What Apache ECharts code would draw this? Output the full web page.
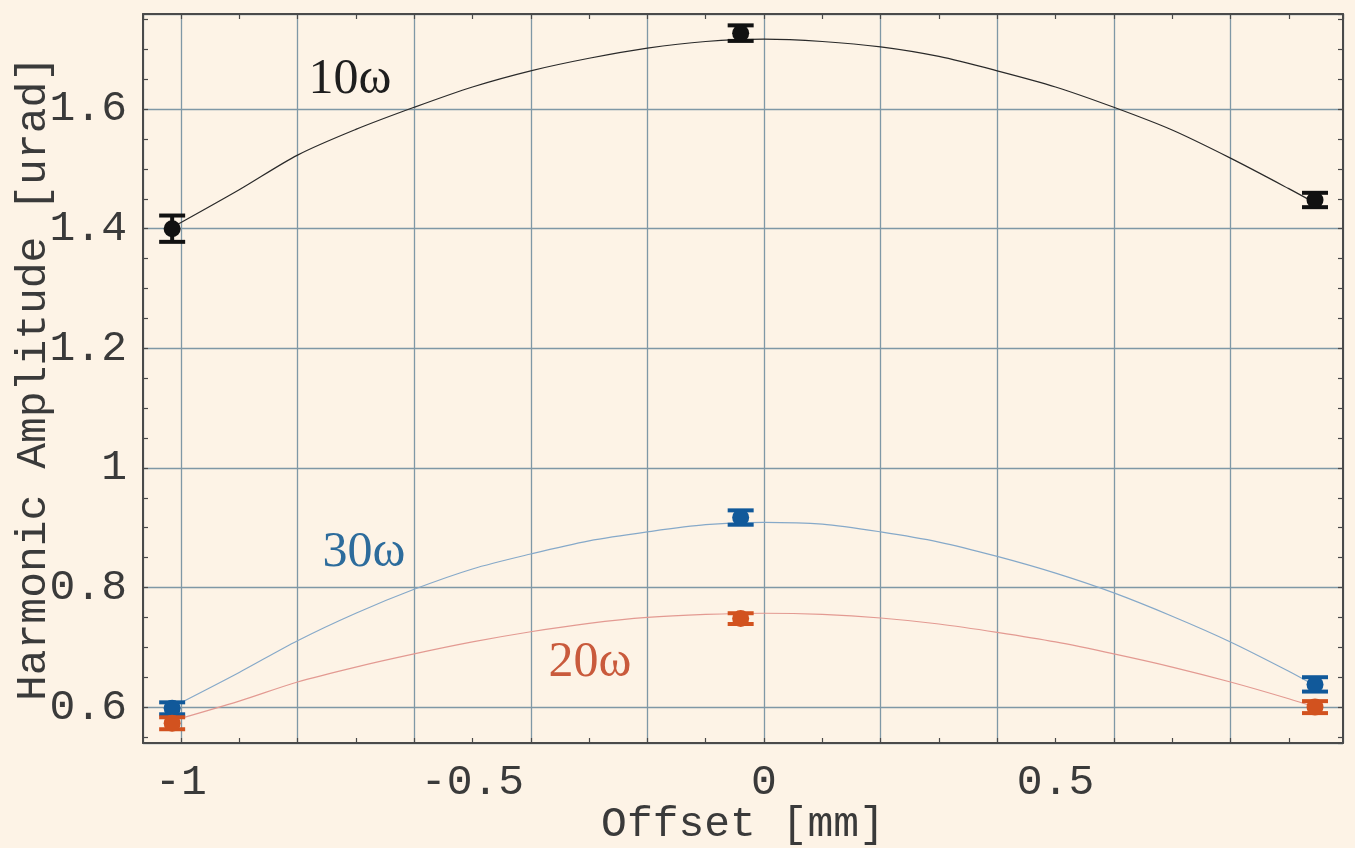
<!DOCTYPE html>
<html>
<head>
<meta charset="utf-8">
<script src="https://cdn.jsdelivr.net/npm/echarts@6/dist/echarts.min.js"></script>
<style>
  html, body { margin: 0; padding: 0; background: #fdf3e6; }
  #chart { width: 1355px; height: 848px; }
</style>
</head>
<body>
<div id="chart"></div>
<script>
// measured points (offset in mm, amplitude in urad, error)
const xMeasured = [-1.015, -0.04, 0.945];
const amp10 = [1.400, 1.727, 1.448];
const err10 = [0.022, 0.013, 0.012];
const amp20 = [0.573, 0.748, 0.600];
const err20 = [0.010, 0.009, 0.010];
const amp30 = [0.598, 0.917, 0.638];
const err30 = [0.010, 0.012, 0.012];

// fitted curves
const xFit = [-1.015, -0.9, -0.8, -0.7, -0.6, -0.5, -0.4, -0.3, -0.2, -0.1, 0, 0.1, 0.2, 0.3, 0.4, 0.5, 0.6, 0.7, 0.8, 0.9, 0.945];
const fit10 = [1.402, 1.465, 1.523, 1.566, 1.603, 1.637, 1.664, 1.685, 1.702, 1.713, 1.717, 1.713, 1.704, 1.688, 1.664, 1.637, 1.603, 1.565, 1.518, 1.467, 1.443];
const fit30 = [0.600, 0.658, 0.711, 0.757, 0.797, 0.831, 0.856, 0.878, 0.893, 0.905, 0.909, 0.906, 0.893, 0.876, 0.852, 0.824, 0.791, 0.752, 0.709, 0.660, 0.636];
const fit20 = [0.577, 0.610, 0.642, 0.667, 0.689, 0.709, 0.726, 0.740, 0.750, 0.755, 0.757, 0.755, 0.749, 0.739, 0.725, 0.709, 0.689, 0.667, 0.642, 0.614, 0.600];

const xLabelTicks = [-1, -0.5, 0, 0.5];
const yLabelTicks = [0.6, 0.8, 1, 1.2, 1.4, 1.6];

const X_MIN = -1.065, X_MAX = 0.993;
const Y_MIN = 0.540, Y_MAX = 1.759;

const FRAME = '#4a4a4a';
const GRIDLINE = '#7f98a6';
const TEXT = '#3a3a3a';
const MONO = '"Liberation Mono", "DejaVu Sans Mono", monospace';
const SERIF = '"Liberation Serif", "DejaVu Serif", serif';

const pick = (list) => (v) => (list.some((t) => Math.abs(t - v) < 1e-6) ? String(+v.toFixed(2)) : '');
const zip = (xs, ys) => xs.map((x, i) => [x, ys[i]]);
const zip3 = (xs, ys, es) => xs.map((x, i) => [x, ys[i], es[i]]);

function errorBar(color) {
  return (params, api) => {
    const x = api.value(0), y = api.value(1), e = api.value(2);
    const c = api.coord([x, y]);
    const hi = api.coord([x, y + e])[1];
    const lo = api.coord([x, y - e])[1];
    const cap = 13;
    const st = { stroke: color, lineWidth: 4 };
    return {
      type: 'group',
      children: [
        { type: 'line', shape: { x1: c[0], y1: hi, x2: c[0], y2: lo }, style: st },
        { type: 'line', shape: { x1: c[0] - cap, y1: hi, x2: c[0] + cap, y2: hi }, style: st },
        { type: 'line', shape: { x1: c[0] - cap, y1: lo, x2: c[0] + cap, y2: lo }, style: st },
        { type: 'circle', shape: { cx: c[0], cy: c[1], r: 8.5 }, style: { fill: color } },
      ],
    };
  };
}

function fitLine(name, data, color) {
  return {
    name, type: 'line', data, smooth: 0.3, showSymbol: false, silent: true,
    lineStyle: { color, width: 1.2 }, z: 2,
  };
}

function points(name, data, color) {
  return { name, type: 'custom', data, renderItem: errorBar(color), z: 3 };
}

const chart = echarts.init(document.getElementById('chart'));

const tickStyle = { color: FRAME, width: 1.2 };

chart.setOption({
  backgroundColor: '#fdf3e6',
  animation: false,
  grid: { left: 143, top: 14, right: 12, bottom: 105, containLabel: false, outerBoundsMode: 'none' },
  xAxis: [
    {
      type: 'value', min: X_MIN, max: X_MAX, splitNumber: 20, position: 'bottom',
      name: 'Offset [mm]', nameLocation: 'middle', nameGap: 60, nameMoveOverlap: false,
      nameTextStyle: { fontFamily: MONO, fontSize: 43, color: TEXT },
      axisLine: { show: true, onZero: false, lineStyle: { color: FRAME, width: 2 } },
      axisTick: { show: true, inside: true, length: 5, lineStyle: tickStyle },
      axisLabel: {
        formatter: pick(xLabelTicks), fontFamily: MONO, fontSize: 43, color: TEXT, margin: 18,
        showMinLabel: false, showMaxLabel: false,
      },
      splitLine: { show: false },
    },
    {
      type: 'value', min: X_MIN, max: X_MAX, splitNumber: 10, position: 'top',
      axisLine: { show: true, onZero: false, lineStyle: { color: FRAME, width: 2 } },
      axisTick: { show: true, inside: true, length: 5, lineStyle: tickStyle },
      minorTick: { show: true, splitNumber: 2, length: 5, lineStyle: tickStyle },
      axisLabel: { show: false },
      splitLine: { show: true, lineStyle: { color: GRIDLINE, width: 1.3 } },
    },
  ],
  yAxis: [
    {
      type: 'value', min: Y_MIN, max: Y_MAX, splitNumber: 24, position: 'left',
      name: 'Harmonic Amplitude [urad]', nameLocation: 'middle', nameGap: 88, nameRotate: 90,
      nameMoveOverlap: false,
      nameTextStyle: { fontFamily: MONO, fontSize: 43, color: TEXT },
      axisLine: { show: true, onZero: false, lineStyle: { color: FRAME, width: 2 } },
      axisTick: { show: true, inside: true, length: 5, lineStyle: tickStyle },
      axisLabel: {
        formatter: pick(yLabelTicks), fontFamily: MONO, fontSize: 43, color: TEXT, margin: 16,
        showMinLabel: false, showMaxLabel: false,
      },
      splitLine: { show: false },
    },
    {
      type: 'value', min: Y_MIN, max: Y_MAX, splitNumber: 6, position: 'right',
      axisLine: { show: true, onZero: false, lineStyle: { color: FRAME, width: 2 } },
      axisTick: { show: true, inside: true, length: 5, lineStyle: tickStyle },
      minorTick: { show: true, splitNumber: 4, length: 5, lineStyle: tickStyle },
      axisLabel: { show: false },
      splitLine: { show: true, lineStyle: { color: GRIDLINE, width: 1.3 } },
    },
  ],
  graphic: [
    { type: 'text', x: 350, y: 80, style: { text: '10ω', font: '50px ' + SERIF, fill: '#1e1e1e', textAlign: 'center', textVerticalAlign: 'middle' } },
    { type: 'text', x: 364, y: 553, style: { text: '30ω', font: '50px ' + SERIF, fill: '#2d6c9c', textAlign: 'center', textVerticalAlign: 'middle' } },
    { type: 'text', x: 590, y: 663, style: { text: '20ω', font: '50px ' + SERIF, fill: '#c95a3c', textAlign: 'center', textVerticalAlign: 'middle' } },
  ],
  series: [
    fitLine('10ω fit', zip(xFit, fit10), '#2a2a2a'),
    fitLine('30ω fit', zip(xFit, fit30), '#86a9c9'),
    fitLine('20ω fit', zip(xFit, fit20), '#e39a92'),
    points('10ω', zip3(xMeasured, amp10, err10), '#111111'),
    points('30ω', zip3(xMeasured, amp30, err30), '#11599a'),
    points('20ω', zip3(xMeasured, amp20, err20), '#d2521f'),
  ],
});
</script>
</body>
</html>
